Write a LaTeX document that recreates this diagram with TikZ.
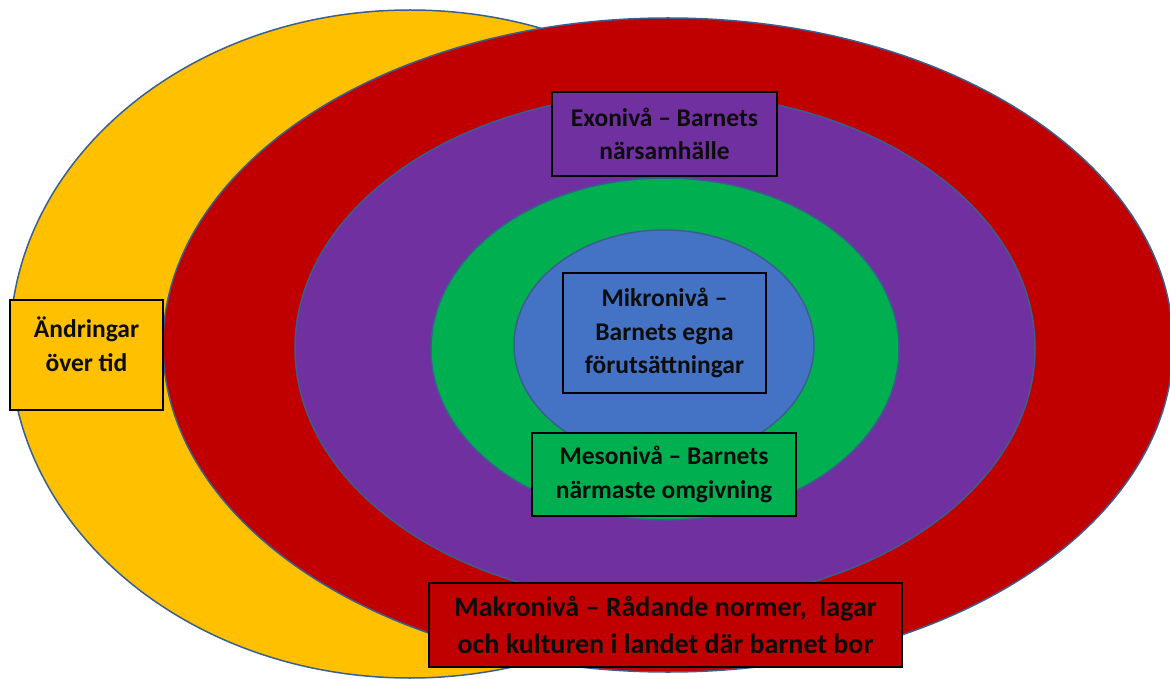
\documentclass[tikz,border=0pt]{standalone}
\usepackage{fontspec}
\setmainfont{Carlito}
\definecolor{cyellow}{HTML}{FFC000}
\definecolor{cred}{HTML}{C00000}
\definecolor{cpurple}{HTML}{7030A0}
\definecolor{cgreen}{HTML}{00B050}
\definecolor{cblue}{HTML}{4472C4}
\definecolor{cedge}{HTML}{3A5F8F}
\definecolor{ctext}{HTML}{0D0D0D}
\tikzset{
  ring/.style={draw=cedge, line width=1.5pt},
  lbox/.style={draw=black, line width=1.3pt, inner sep=0pt, align=center,
    font=\fontsize{25.5}{33.5}\selectfont\bfseries, text=ctext},
  ltext/.style={inner sep=0pt, align=center,
    font=\fontsize{25.5}{33.5}\selectfont\bfseries, text=ctext}
}
\begin{document}
\begin{tikzpicture}[x=1pt,y=-1pt]
\useasboundingbox (0,0) rectangle (1170,679);
\clip (0,0) rectangle (1170,679);
% rings
\filldraw[ring, fill=cyellow] (410,344) ellipse [x radius=400pt, y radius=334pt];
\filldraw[ring, fill=cred] (668,345) ellipse [x radius=505pt, y radius=327pt];
\filldraw[ring, fill=cpurple] (665,348) ellipse [x radius=370pt, y radius=255pt];
\filldraw[ring, fill=cgreen] (665,349) ellipse [x radius=234pt, y radius=171pt];
\filldraw[ring, fill=cblue] (664,345) ellipse [x radius=150pt, y radius=115pt];
% label boxes
\node[lbox, fill=cyellow, minimum width=153pt, minimum height=110pt] (andr) at (86.5,355) {};
\node[ltext] (andrtxt) at (86.5,344) {Ändringar\\över tid};
\node[lbox, fill=cpurple, minimum width=225pt, minimum height=84pt] (exo) at (664.5,134) {Exonivå – Barnets\\närsamhälle};
\node[lbox, fill=cblue, minimum width=203pt, minimum height=120pt] (mikro) at (664.5,333) {Mikronivå –\\Barnets egna\\förutsättningar};
\node[lbox, fill=cgreen, minimum width=264pt, minimum height=83pt] (meso) at (664,474.5) {Mesonivå – Barnets\\närmaste omgivning};
\node[lbox, fill=cred, minimum width=473pt, minimum height=84pt,
  font=\fontsize{28}{37.5}\selectfont\bfseries] (makro) at (665.5,625) {Makronivå – Rådande normer,~ lagar\\och kulturen i landet där barnet bor};
\end{tikzpicture}
\end{document}
